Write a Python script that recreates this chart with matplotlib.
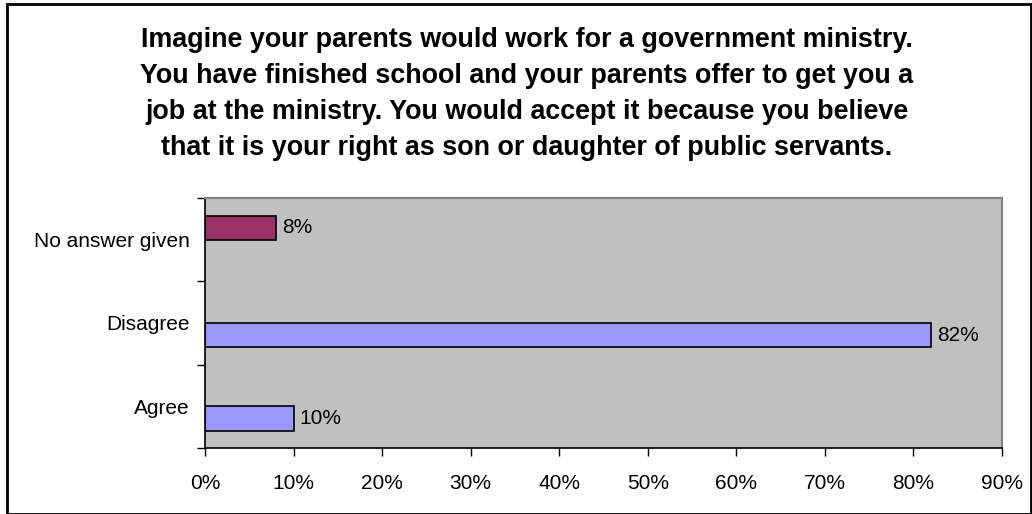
import matplotlib.pyplot as plt
from matplotlib.patches import Rectangle

plt.rcParams['font.family'] = ['Liberation Sans', 'DejaVu Sans']

categories = ['Agree', 'Disagree', 'No answer given']
series_main = [10, 82, None]      # blue series
series_other = [None, None, 8]    # purple series
xticks = list(range(0, 100, 10))

title = ("Imagine your parents would work for a government ministry.\n"
         "You have finished school and your parents offer to get you a\n"
         "job at the ministry. You would accept it because you believe\n"
         "that it is your right as son or daughter of public servants.")

fig = plt.figure(figsize=(10.32, 5.14), dpi=100)
ax = fig.add_axes([205 / 1032, 1 - 448 / 514, 797 / 1032, 250 / 514])
ax.set_facecolor('#C0C0C0')

bar_h = 0.29
off = 0.145
lbl_size = 15
for i, v in enumerate(series_main):
    if v is not None:
        ax.barh(i - off, v, height=bar_h, color='#9999FF', edgecolor='black', linewidth=1.2)
        ax.text(v + 0.7, i - off, f'{v}%', va='center', ha='left', fontsize=lbl_size)
for i, v in enumerate(series_other):
    if v is not None:
        ax.barh(i + off, v, height=bar_h, color='#993366', edgecolor='black', linewidth=1.2)
        ax.text(v + 0.7, i + off, f'{v}%', va='center', ha='left', fontsize=lbl_size)

ax.set_xlim(0, 90)
ax.set_ylim(-0.5, 2.5)
ax.set_xticks(xticks)
ax.set_xticklabels([f'{t}%' for t in xticks], fontsize=lbl_size)
ax.set_yticks(range(len(categories)))
ax.set_yticklabels(categories, fontsize=lbl_size)
ax.set_yticks([-0.5, 0.5, 1.5, 2.5], minor=True)
ax.tick_params(axis='y', which='major', length=0, pad=11)
ax.tick_params(axis='y', which='minor', length=6, width=1, color='black')
ax.tick_params(axis='x', length=6, width=1, pad=13)

for s in ['top', 'right']:
    ax.spines[s].set_color('#808080')
    ax.spines[s].set_linewidth(1.5)
for s in ['left', 'bottom']:
    ax.spines[s].set_color('black')
    ax.spines[s].set_linewidth(1.2)

fig.text(527 / 1032, 1 - 94 / 514, title, ha='center', va='center',
         fontsize=19.4, fontweight='bold', linespacing=1.5)

fig.patches.append(Rectangle((7 / 1032, 0), 1 - 8 / 1032, 1 - 4 / 514,
                             transform=fig.transFigure, fill=False,
                             edgecolor='black', linewidth=2))

fig.savefig('out.png', dpi=100)
